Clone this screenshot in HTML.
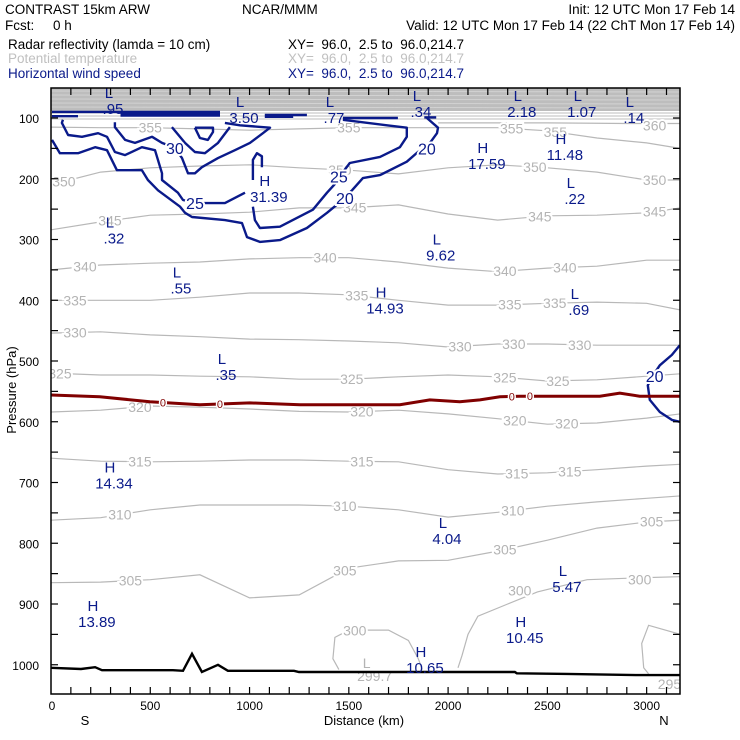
<!DOCTYPE html>
<html><head><meta charset="utf-8"><style>
body{margin:0;background:#fff}
svg{display:block}
text{font-family:"Liberation Sans",sans-serif}
</style></head><body>
<svg id="c" width="740" height="740" viewBox="0 0 740 740" xmlns="http://www.w3.org/2000/svg">
<g font-size="13.5">
<text x="5" y="14">CONTRAST 15km ARW</text>
<text x="242" y="14">NCAR/MMM</text>
<text x="735" y="14" text-anchor="end">Init: 12 UTC Mon 17 Feb 14</text>
<text x="5" y="30" xml:space="preserve">Fcst:     0 h</text>
<text x="735" y="30" text-anchor="end">Valid: 12 UTC Mon 17 Feb 14 (22 ChT Mon 17 Feb 14)</text>
<text x="8" y="49">Radar reflectivity (lamda = 10 cm)</text>
<text x="288" y="49" xml:space="preserve">XY=  96.0,  2.5 to  96.0,214.7</text>
<text x="8" y="63" fill="#c0c0c0">Potential temperature</text>
<text x="288" y="63" fill="#c0c0c0" xml:space="preserve">XY=  96.0,  2.5 to  96.0,214.7</text>
<text x="8" y="78" fill="#0a1a8a">Horizontal wind speed</text>
<text x="288" y="78" fill="#0a1a8a" xml:space="preserve">XY=  96.0,  2.5 to  96.0,214.7</text>
</g>
<defs><clipPath id="pc"><rect x="51" y="88" width="629" height="606"/></clipPath></defs>
<g id="plot" clip-path="url(#pc)"></g>
<g id="axes"></g>
</svg>
<script>
// ---- data ----
const gridKm=[0,250,500,750,1000,1250,1500,1750,2000,2250,2500,2750,3000,3170];
const thetaLevels=[355,350,345,340,335,330,325,320,315,310,305];
const th355=[115,116,116,118,120,118,116,116,116,116,121,133,141,150];
const th350=[210,189,182,179,177,182,186,192,182,177,182,189,202,202];
const th345=[284,271,260,258,255,248,248,243,258,268,261,260,256,248];
const th340=[350,342,339,337,332,330,330,337,347,353,347,344,334,334];
const th335=[400,400,400,395,388,388,391,400,408,408,405,403,405,416];
const th330=[454,452,457,460,464,465,467,470,477,472,472,474,474,474];
const th325=[520,523,523,525,526,530,530,526,523,526,533,531,525,521];
const th320=[584,581,574,576,579,583,584,581,587,595,604,602,594,587];
const th315=[660,665,666,665,663,663,665,666,679,686,684,679,673,670];
const th310=[762,758,745,737,737,737,739,745,757,749,739,732,726,722];
const th305=[865,864,860,852,890,885,841,829,828,813,795,775,765,762];
const thetaSeries=[th355,th350,th345,th340,th335,th330,th325,th320,th315,th310,th305];
const thetaLabelKm=[[500,1500,2320,2540],[65,1455,2437,3040],[297,1530,2462,3040],[171,1380,2286,2588],[121,1540,2311,2537],[121,2060,2331,2663],[45,1515,2286,2553],[448,1566,2336,2598],[448,1566,2346,2613],[347,1480,2326],[400,1480,2286,3025]];
const th360=[[1950,108],[2500,108],[2900,109],[3170,109]];
const th300a=[[2050,1005],[2070,985],[2100,950],[2150,920],[2300,900],[2450,880],[2700,860],[2950,857],[3170,855]];
const th300b=[[1450,1008],[1420,990],[1430,955],[1500,943],[1700,943],[1800,960],[1850,990],[1870,1008]];
const th295=[[3170,950],[3010,935],[2975,965],[2985,1005],[3010,1015]];
const extraThetaLabels=[["360",3040,112],["300",2965,860],["300",2361,878],["300",1530,944],["295",3115,1032]];
// wind speed contours [km,hPa]
const wsA=[[5,136],[45,158],[136,158],[222,148],[282,153],[332,186],[458,186],[488,202],[539,219],[650,246],[675,256],[710,263],[876,268],[962,273],[987,296],[1052,304],[1153,301],[1289,281],[1390,256],[1450,240],[1516,219],[1571,199],[1657,194],[1792,172],[1848,156],[1900,145],[1944,125],[1949,116],[1893,100]];
const wsB=[[60,103],[55,108],[86,128],[156,131],[237,125],[282,131],[322,156],[373,161],[458,148],[524,153],[559,191],[559,202],[639,223],[665,235],[725,240],[775,240],[876,240],[977,223]];
const wsB2=[[1017,246],[1027,268],[1052,281],[1153,279],[1319,251],[1390,223],[1440,205],[1470,189],[1505,174],[1657,164],[1757,148],[1792,131],[1792,116],[1692,112],[1470,103]];
const wsC1=[[322,107],[322,115],[373,136],[423,141],[509,131],[559,141],[624,149],[660,166],[690,191],[725,191],[760,181],[841,166],[926,153],[1002,141],[1067,125],[1103,116],[952,112],[876,108]];
const wsC2=[[609,115],[675,141],[725,156],[775,158],[841,141],[901,115]];
const wsLoop=[[725,116],[750,133],[790,136],[816,123],[816,116],[725,116]];
const wsSpur=[[1017,202],[1017,169],[1037,158],[1062,163],[1062,181]];
const wsRight=[[3167,474],[3127,490],[3066,507],[3040,520],[3006,540],[3016,564],[3066,584],[3127,597],[3167,600]];
const wsTop=[[[5,90],[851,90]],[[350,93],[851,93]],[[5,97],[136,97]],[[350,96],[851,96]],[[1077,95],[1289,95]],[[1077,98],[1220,98]],[[1470,100],[1747,100]],[[1880,99],[1940,99]]];
const wsLabels=[["30",624,149],["25",725,240],["25",1450,196],["20",1480,232],["20",1893,150],["20",3040,525]];
// freezing (0) line
const zeroLine=[[0,556],[246,559],[498,567],[750,572],[1002,569],[1254,572],[1505,572],[1757,572],[1908,564],[2059,567],[2160,564],[2261,559],[2361,558],[2563,558],[2764,558],[2865,553],[2965,558],[3167,558]];
const zeroLabelKm=[564,851,2321,2412];
// terrain
const terrainKm=[0,151,222,257,614,665,710,760,841,891,1224,1249,2336,2346,2598,2946,3170];
const terrainP=[1005,1007,1004,1009,1009,1010,982,1012,1000,1010,1010,1012,1012,1014,1015,1017,1017];
// H/L extrema
const hlType=["L","L","L","L","L","L","L","H","H","L","H","L","L","L","H","L","L","H","L","L","H","H","H"];
const hlValue=[".95","3.50",".77",".34","2.18","1.07",".14","17.59","11.48",".22","31.39",".32","9.62",".55","14.93",".69",".35","14.34","4.04","5.47","13.89","10.45","10.65"];
const hlKm=[292,952,1405,1843,2351,2653,2915,2175,2568,2618,1077,297,1943,634,1662,2638,861,297,1974,2578,211,2366,1863];
const hlP=[57,72,72,62,62,62,72,148,133,205,202,270,298,353,386,388,495,674,765,844,902,928,977];
const yTicks=[100,200,300,400,500,600,700,800,900,1000];
const xTicks=[0,500,1000,1500,2000,2500,3000];

// ---- scales ----
const X=k=>51+k*0.19855;
const Y=p=>118+(p-100)*0.6075;
const NS="http://www.w3.org/2000/svg";
const plot=document.getElementById('plot'), axes=document.getElementById('axes');
function mk(tag,attrs,parent){const e=document.createElementNS(NS,tag);for(const k in attrs)e.setAttribute(k,attrs[k]);parent.appendChild(e);return e;}
const pts=a=>a.map(d=>X(d[0]).toFixed(1)+','+Y(d[1]).toFixed(1)).join(' ');
function interp(km,ser){for(let i=0;i<gridKm.length-1;i++){if(km<=gridKm[i+1]){const t=(km-gridKm[i])/(gridKm[i+1]-gridKm[i]);return ser[i]+t*(ser[i+1]-ser[i]);}}return ser[ser.length-1];}
function interpPairs(km,a){for(let i=0;i<a.length-1;i++){if(km>=a[i][0]&&km<=a[i+1][0]){const t=(km-a[i][0])/(a[i+1][0]-a[i][0]);return a[i][1]+t*(a[i+1][1]-a[i][1]);}}return a[a.length-1][1];}

// stratospheric band
let e=mk('rect',{x:51,y:88,width:629,height:23,fill:'#bdbdbd'},plot);


[91,95,99,103,107].forEach(yy=>{const l=mk('line',{x1:51,x2:680,y1:yy,y2:yy+1,stroke:'#d8d8d8','stroke-width':0.8},plot);

});
[113,116,119].forEach(yy=>{const l=mk('line',{x1:51,x2:680,y1:yy,y2:yy,stroke:'#bdbdbd','stroke-width':1},plot);

});

// theta lines
thetaSeries.forEach((ser,i)=>{
  const l=mk('polyline',{points:pts(gridKm.map((k,j)=>[k,ser[j]])),fill:'none',stroke:'#b8b8b8','stroke-width':1.2},plot);
  
  
});
[[th360,'isentrope-360'],[th300a,'isentrope-300'],[th300b,'isentrope-300-closed'],[th295,'isentrope-295']].forEach(([a,n])=>{
  const l=mk('polyline',{points:pts(a),fill:'none',stroke:'#b8b8b8','stroke-width':1.2},plot);
  
  
});
function grayLabel(txt,x,y){const t=mk('text',{x:x,y:y+5,'text-anchor':'middle','font-size':14,fill:'#b4b4b4',stroke:'#fff','stroke-width':4,'paint-order':'stroke'},plot);t.textContent=txt;

}
thetaSeries.forEach((ser,i)=>{thetaLabelKm[i].forEach(k=>grayLabel(String(thetaLevels[i]),X(k),Y(interp(k,ser))));});
extraThetaLabels.forEach(d=>grayLabel(d[0],X(d[1]),Y(d[2])));
let t=mk('text',{x:X(1590),y:Y(1000)+3,'text-anchor':'middle','font-size':14,fill:'#b4b4b4'},plot);t.textContent='L';


t=mk('text',{x:X(1630),y:Y(1000)+16,'text-anchor':'middle','font-size':14,fill:'#b4b4b4'},plot);t.textContent='299.7';



// wind contours
const NAVY='#0a1a8a';
[[wsA,'wind-contour-20'],[wsB,'wind-contour-25-left'],[wsB2,'wind-contour-25-right'],[wsC1,'wind-contour-30'],[wsC2,'wind-contour-30-inner'],[wsLoop,'wind-contour-loop'],[wsSpur,'wind-contour-spur'],[wsRight,'wind-contour-20-right']].forEach(([a,n])=>{
  const l=mk('polyline',{points:pts(a),fill:'none',stroke:NAVY,'stroke-width':2.4,'stroke-linejoin':'round'},plot);
  
  
});
wsTop.forEach(a=>{const l=mk('polyline',{points:pts(a),fill:'none',stroke:NAVY,'stroke-width':2.4},plot);

});
wsLabels.forEach(d=>{const tt=mk('text',{x:X(d[1]),y:Y(d[2])+6,'text-anchor':'middle','font-size':16,fill:NAVY,stroke:'#fff','stroke-width':4,'paint-order':'stroke'},plot);tt.textContent=d[0];

});

// zero line
e=mk('polyline',{points:pts(zeroLine),fill:'none',stroke:'#800000','stroke-width':3},plot);


zeroLabelKm.forEach(k=>{const tt=mk('text',{x:X(k),y:Y(interpPairs(k,zeroLine))+4,'text-anchor':'middle','font-size':11,fill:'#800000',stroke:'#fff','stroke-width':3,'paint-order':'stroke'},plot);tt.textContent='0';

});

// terrain
e=mk('polyline',{points:pts(terrainKm.map((k,i)=>[k,terrainP[i]])),fill:'none',stroke:'#000','stroke-width':2.4},plot);



// H/L
hlType.forEach((ty,i)=>{
  const x=X(hlKm[i]),y=Y(hlP[i]);
  const a=mk('text',{x:x,y:y+6,'text-anchor':'middle','font-size':15,fill:NAVY},plot);a.textContent=ty;
  
  
  const b=mk('text',{x:x+4,y:y+22,'text-anchor':'middle','font-size':15,fill:NAVY},plot);b.textContent=hlValue[i];
  
  
});

// axes frame & ticks
e=mk('rect',{x:51,y:88,width:629,height:606,fill:'none',stroke:'#000','stroke-width':1.5},axes);


for(let p=50;p<=1050;p+=50){const y=Y(p);if(y<89||y>693)continue;
  const a=mk('line',{x1:51,x2:58,y1:y,y2:y,stroke:'#000','stroke-width':1.2},axes);
  
  
  const b=mk('line',{x1:673,x2:680,y1:y,y2:y,stroke:'#000','stroke-width':1.2},axes);
  
  }
for(let k=100;k<=3100;k+=100){const x=X(k);
  const a=mk('line',{x1:x,x2:x,y1:687,y2:694,stroke:'#000','stroke-width':1.2},axes);
  
  
  const b=mk('line',{x1:x,x2:x,y1:88,y2:95,stroke:'#000','stroke-width':1.2},axes);
  
  }
yTicks.forEach(p=>{const tt=mk('text',{x:39,y:Y(p)+5,'text-anchor':'end','font-size':12},axes);tt.textContent=String(p);

});
xTicks.forEach(k=>{const tt=mk('text',{x:X(k)+(k===0?1:0),y:710,'text-anchor':'middle','font-size':12},axes);tt.textContent=String(k);

});
[['S',85,'x-axis-start-label'],['Distance (km)',364,'x-axis-title'],['N',664,'x-axis-end-label']].forEach(d=>{const tt=mk('text',{x:d[1],y:725,'text-anchor':'middle','font-size':13},axes);tt.textContent=d[0];

});
t=mk('text',{x:0,y:0,'text-anchor':'middle','font-size':13,transform:'translate(16,390) rotate(-90)'},axes);t.textContent='Pressure (hPa)';


</script>
</body></html>
